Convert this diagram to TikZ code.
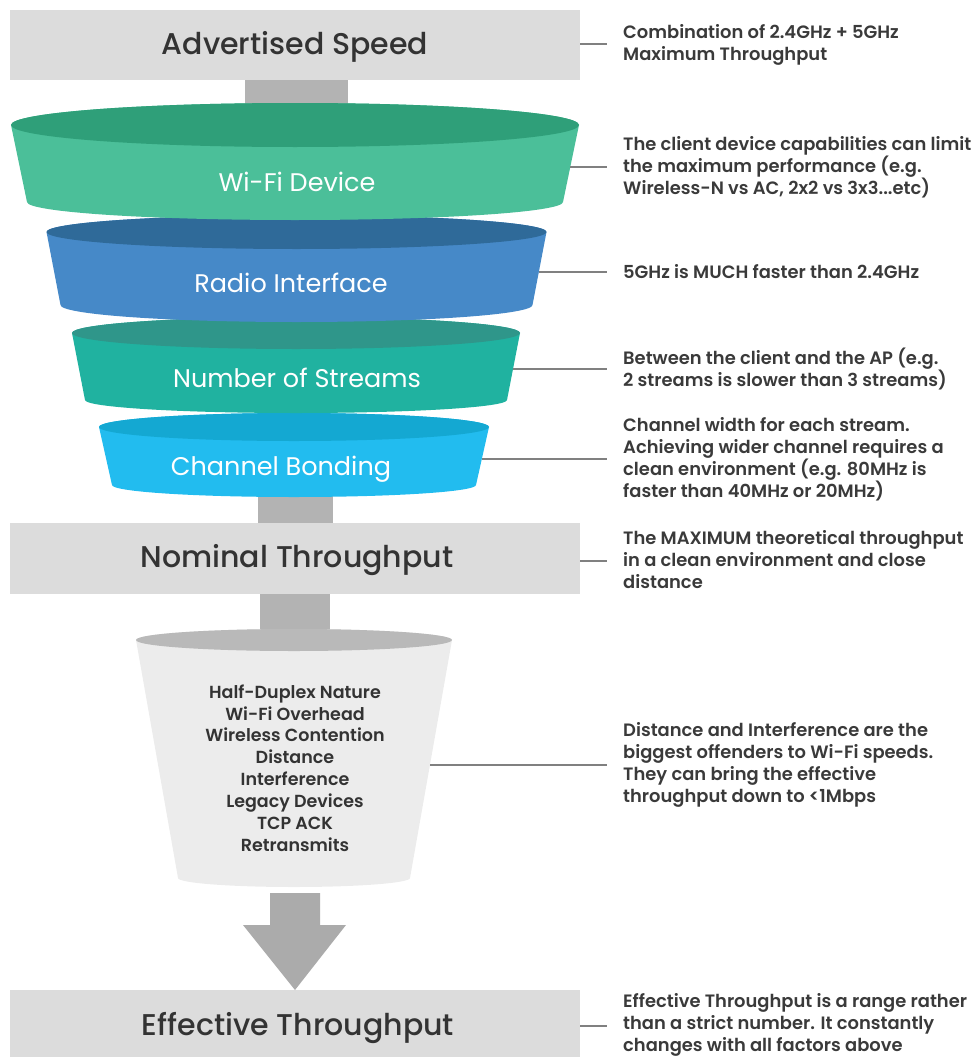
\documentclass[tikz,border=0pt]{standalone}
\usepackage{fontspec}
\usetikzlibrary{calc}
\setmainfont{Poppins}
\newfontfamily\medfont{Poppins Medium}
\newfontfamily\semifont{Poppins SemiBold}
\definecolor{boxc}{HTML}{DCDCDC}
\definecolor{stemc}{HTML}{B3B3B3}
\definecolor{headc}{HTML}{333333}
\definecolor{descc}{HTML}{3A3A3A}
\definecolor{connc}{HTML}{808080}
\definecolor{wifitop}{HTML}{2F9F79}
\definecolor{wifibody}{HTML}{4BBF99}
\definecolor{radiotop}{HTML}{2F6A99}
\definecolor{radiobody}{HTML}{4689C8}
\definecolor{strtop}{HTML}{2F968A}
\definecolor{strbody}{HTML}{20B2A0}
\definecolor{chtop}{HTML}{14A8D2}
\definecolor{chbody}{HTML}{22BCEF}
\definecolor{greytop}{HTML}{B9B9B9}
\definecolor{greybody}{HTML}{ECECEC}
\definecolor{arrowc}{HTML}{ABABAB}
\newcommand{\funnelshape}[9]{%
  \fill[#9] (#1-#3,#2) -- (#1-#6,#5) arc[start angle=180,end angle=0,x radius=#6,y radius=#7]
     -- (#1+#3,#2) arc[start angle=0,end angle=-180,x radius=#3,y radius=#4] -- cycle;
  \fill[#8] (#1,#2) ellipse[x radius=#3,y radius=#4];
}
\begin{document}
\begin{tikzpicture}[x=1pt,y=-1pt,
  heading/.style={font=\medfont\fontsize{30}{34}\selectfont, text=headc, inner sep=0, anchor=base},
  flabel/.style={font=\fontsize{25.5}{28}\selectfont, text=white, inner sep=0, anchor=base},
  desc/.style={font=\semifont\fontsize{17.9}{22}\selectfont, text=descc, align=left, inner sep=0, anchor=west},
  conn/.style={draw=connc, line width=2pt},
  boxfill/.style={fill=boxc},
  stemfill/.style={fill=stemc}]
\useasboundingbox (0,0) rectangle (979,1057);
% stems
\fill[stemfill] (245,78) rectangle (348,110);
\fill[stemfill] (258,480) rectangle (333,525);
\fill[stemfill] (260,592) rectangle (330,640);
% boxes
\fill[boxfill] (10,10) rectangle (580,80);
\fill[boxfill] (10,523) rectangle (580,594);
\fill[boxfill] (10,990) rectangle (580,1057);
% funnels, bottom first
\funnelshape{294}{427}{195}{14}{485}{182}{12}{chtop}{chbody}
\funnelshape{296}{333}{224}{16}{400}{211}{13}{strtop}{strbody}
\funnelshape{296.5}{232}{250}{17}{305}{236}{17}{radiotop}{radiobody}
\funnelshape{295}{125}{284}{22}{202}{268}{18}{wifitop}{wifibody}
\funnelshape{294}{640}{158}{11}{878}{116}{9}{greytop}{greybody}
% arrow
\fill[arrowc] (270,893) -- (320,893) -- (320,925) -- (346,925) -- (295,990) -- (243,925) -- (270,925) -- cycle;
% headings
\node[heading] (adv) at (295,55) {Advertised Speed};
\node[heading] (nom) at (297,567) {Nominal Throughput};
\node[heading] (eff) at (298,1035) {Effective Throughput};
% funnel labels
\node[flabel] (wifi) at (297,191) {Wi-Fi Device};
\node[flabel] (radio) at (291,292) {Radio Interface};
\node[flabel] (streams) at (297,387) {Number of Streams};
\node[flabel] (chan) at (281,475) {Channel Bonding};
\node[font=\semifont\fontsize{17.5}{21.9}\selectfont, text=headc, align=center, inner sep=0] (factors) at (295,768)
  {Half-Duplex Nature\\Wi-Fi Overhead\\Wireless Contention\\Distance\\Interference\\Legacy Devices\\TCP ACK\\Retransmits};
% descriptions
\node[desc] (dadv) at (623,45) {Combination of 2.4GHz + 5GHz\\Maximum Throughput};
\node[desc] (dwifi) at (623,167) {The client device capabilities can limit\\the maximum performance (e.g.\\Wireless-N vs AC, 2x2 vs 3x3...etc)};
\node[desc] (dradio) at (623,272) {5GHz is MUCH faster than 2.4GHz};
\node[desc] (dstr) at (623,369) {Between the client and the AP (e.g.\\2 streams is slower than 3 streams)};
\node[desc] (dchan) at (623,459) {Channel width for each stream.\\Achieving wider channel requires a\\clean environment (e.g. 80MHz is\\faster than 40MHz or 20MHz)};
\node[desc] (dnom) at (623,560) {The MAXIMUM theoretical throughput\\in a clean environment and close\\distance};
\node[desc] (ddist) at (623,765) {Distance and Interference are the\\biggest offenders to Wi-Fi speeds.\\They can bring the effective\\throughput down to <1Mbps};
\node[desc] (deff) at (623,1025) {Effective Throughput is a range rather\\than a strict number. It constantly\\changes with all factors above};
% connector start points
\coordinate (cadv) at (580,44);
\coordinate (cwifi) at (570,167);
\coordinate (cradio) at (539,272);
\coordinate (cstr) at (513,369);
\coordinate (cchan) at (482,459);
\coordinate (cnom) at (580,561);
\coordinate (cdist) at (430,765);
\coordinate (ceff) at (580,1026);
\foreach \a/\b in {cadv/dadv,cwifi/dwifi,cradio/dradio,cstr/dstr,cchan/dchan,cnom/dnom,cdist/ddist,ceff/deff}
  \draw[conn] (\a) -- ($(\a -| \b.west)+(-16,0)$);
\end{tikzpicture}
\end{document}
